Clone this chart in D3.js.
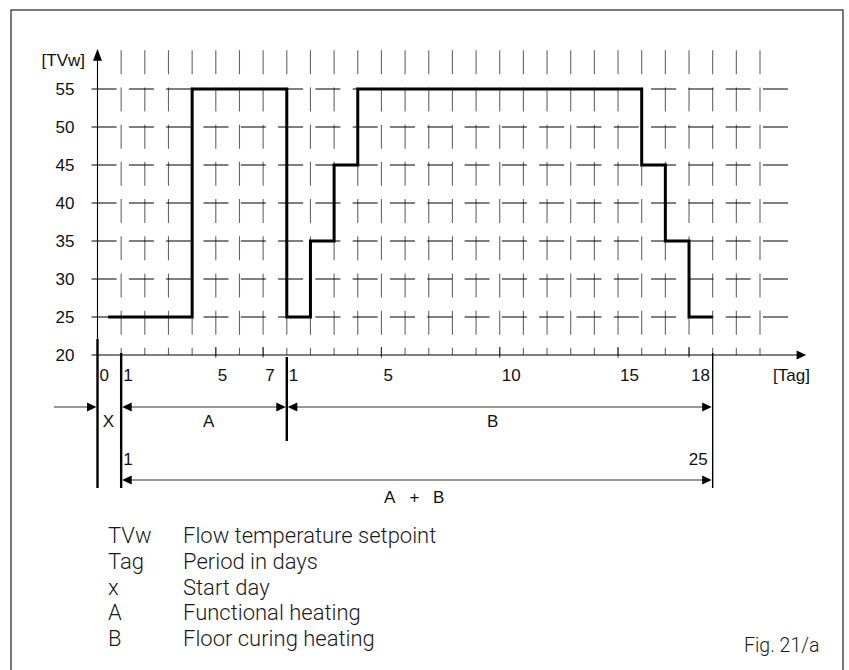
<!DOCTYPE html>
<html><head><meta charset="utf-8">
<script src="https://cdn.jsdelivr.net/npm/d3@7"></script>
<style>
html,body{margin:0;padding:0;background:#fff;}
svg{display:block;}
.lbl{font-family:"Liberation Sans",Arial,sans-serif;font-size:17px;fill:#111;}
.leg{font-family:Roboto,"Noto Sans",sans-serif;font-size:22px;font-weight:300;fill:#1a1a1a;}
.fig{font-family:Roboto,"Noto Sans",sans-serif;font-size:19.5px;font-weight:300;fill:#1a1a1a;}
</style></head><body>
<svg id="chart" width="849" height="670"></svg>
<script>
// Flow temperature profile: each step starts at a day index and holds its setpoint until the next one
const stepStart = [0.45, 4, 8, 9, 10, 11, 23, 24, 25];
const stepEnd = 26;
const setpoints = [25, 55, 25, 35, 45, 55, 45, 35, 25];

// Temperature axis
const yTicks = [20, 25, 30, 35, 40, 45, 50, 55];
const gridLevels = [25, 30, 35, 40, 45, 50, 55];

// Day grid: index 0 = start day, 1..7 functional heating, 8..25 floor curing
const gridDays = d3.range(1, 29);
const xTickIndex = [0, 1, 5, 7, 8, 12, 17, 22, 25];
const xTickLabels = ["0", "1", "5", "7", "1", "5", "10", "15", "18"];

// Heating phases (day indices)
const startDay = 0;
const phaseNames = ["A", "B"];
const phaseStart = [1, 8];
const phaseEnd = [8, 26];
const totalLabels = ["1", "25"];

// Legend entries
const legendKeys = ["TVw", "Tag", "x", "A", "B"];
const legendText = ["Flow temperature setpoint", "Period in days", "Start day", "Functional heating", "Floor curing heating"];

const svg = d3.select("#chart");
const x = d3.scaleLinear().domain([0, 28]).range([97.5, 760]);
const y = d3.scaleLinear().domain([20, 55]).range([355, 89]);

// outer frame
svg.append("rect").attr("x", 11).attr("y", 10).attr("width", 832).attr("height", 700)
  .attr("fill", "none").attr("stroke", "#333").attr("stroke-width", 1.3);

// arrowhead helper: tip at (tx,ty), dir = +1 right, -1 left, "up"
function arrowHead(g, tx, ty, dir) {
  let p;
  if (dir === "up") p = [[tx, ty], [tx - 4.5, ty + 12], [tx + 4.5, ty + 12]];
  else p = [[tx, ty], [tx - dir * 9.5, ty - 4.5], [tx - dir * 9.5, ty + 4.5]];
  g.append("path").attr("d", "M" + p.join("L") + "Z").attr("fill", "#000");
}

// vertical dashed day grid
const grid = svg.append("g");
grid.selectAll("line.v").data(gridDays).join("line").attr("class", "v")
  .attr("x1", d => x(d)).attr("x2", d => x(d))
  .attr("y1", y(60.1)).attr("y2", y(20))
  .attr("stroke", "#666").attr("stroke-width", 1.1)
  .attr("stroke-dasharray", "24,13.2");

// horizontal dashed temperature grid
grid.selectAll("line.h").data(gridLevels).join("line").attr("class", "h")
  .attr("x1", x(-0.25)).attr("x2", x(29.3))
  .attr("y1", d => y(d)).attr("y2", d => y(d))
  .attr("stroke", "#000").attr("stroke-width", 1)
  .attr("stroke-dasharray", "25,12.3");

// tick marks at labelled days (skip the start day / phase borders)
grid.selectAll("line.t").data(xTickIndex.filter(d => d > 1 && d !== 8)).join("line").attr("class", "t")
  .attr("x1", d => x(d)).attr("x2", d => x(d))
  .attr("y1", y(20) - 8).attr("y2", y(20) + 2.5)
  .attr("stroke", "#333").attr("stroke-width", 1.1);

// axes lines
const ax = svg.append("g");
ax.append("line").attr("x1", x(-0.25)).attr("x2", x(29.6)).attr("y1", y(20)).attr("y2", y(20))
  .attr("stroke", "#000").attr("stroke-width", 1.1);
arrowHead(ax, x(29.95), y(20), 1);
ax.append("line").attr("x1", x(0)).attr("x2", x(0)).attr("y1", y(20)).attr("y2", y(59.5))
  .attr("stroke", "#000").attr("stroke-width", 1.1);
arrowHead(ax, x(0), y(60.3), "up");

// y tick labels via d3 axis
const yAxis = svg.append("g").attr("transform", `translate(${x(0)},0)`)
  .call(d3.axisLeft(y).tickValues(yTicks).tickSize(0).tickPadding(23).tickFormat(d3.format("d")));
yAxis.select(".domain").remove();
yAxis.selectAll("text").attr("class", "lbl").attr("font-family", null).attr("font-size", null).attr("fill", "#111");

// x tick labels via d3 axis (left-aligned to the day line)
const xAxis = svg.append("g").attr("transform", `translate(0,${y(20)})`)
  .call(d3.axisBottom(x).tickValues(xTickIndex).tickSize(0).tickPadding(0)
    .tickFormat((d, i) => xTickLabels[i]));
xAxis.select(".domain").remove();
xAxis.selectAll("text").attr("class", "lbl").attr("font-family", null).attr("font-size", null)
  .attr("fill", "#111").attr("text-anchor", "start").attr("dx", 1.5).attr("dy", null).attr("y", 26);

svg.append("text").attr("class", "lbl").attr("x", 85).attr("y", 66).attr("text-anchor", "end").text("[TVw]");
svg.append("text").attr("class", "lbl").attr("x", 773).attr("y", 381).text("[Tag]");

// setpoint step line
const pts = stepStart.map((d, i) => [d, setpoints[i]]).concat([[stepEnd, setpoints[setpoints.length - 1]]]);
svg.append("path").datum(pts)
  .attr("d", d3.line().x(d => x(d[0])).y(d => y(d[1])).curve(d3.curveStepAfter))
  .attr("fill", "none").attr("stroke", "#000").attr("stroke-width", 3).attr("stroke-linejoin", "miter");

// dimension lines below the axis
const dim = svg.append("g");
const rowY = 407, totY = 480;
const ext = [
  { d: startDay, y1: y(20) - 16, y2: 488, w: 2.4 },
  { d: phaseStart[0], y1: y(20) - 2, y2: 488, w: 2.4 },
  { d: phaseEnd[0], y1: y(20) + 2, y2: 441, w: 2.4 },
  { d: phaseEnd[1], y1: y(20) - 2, y2: 488, w: 1.4 }
];
dim.selectAll("line.e").data(ext).join("line").attr("class", "e")
  .attr("x1", d => x(d.d)).attr("x2", d => x(d.d)).attr("y1", d => d.y1).attr("y2", d => d.y2)
  .attr("stroke", "#000").attr("stroke-width", d => d.w);

// start-day pointer
dim.append("line").attr("x1", 54).attr("x2", x(startDay) - 5).attr("y1", rowY).attr("y2", rowY)
  .attr("stroke", "#333").attr("stroke-width", 1.1);
arrowHead(dim, x(startDay) - 1, rowY, 1);

// phase spans
phaseNames.forEach((n, i) => {
  const a = x(phaseStart[i]), b = x(phaseEnd[i]);
  dim.append("line").attr("x1", a + 4).attr("x2", b - 4).attr("y1", rowY).attr("y2", rowY)
    .attr("stroke", "#333").attr("stroke-width", 1.1);
  arrowHead(dim, a + 1, rowY, -1);
  arrowHead(dim, b - 1, rowY, 1);
});
// total span A + B
{
  const a = x(phaseStart[0]), b = x(phaseEnd[1]);
  dim.append("line").attr("x1", a + 4).attr("x2", b - 4).attr("y1", totY).attr("y2", totY)
    .attr("stroke", "#333").attr("stroke-width", 1.1);
  arrowHead(dim, a + 1, totY, -1);
  arrowHead(dim, b - 1, totY, 1);
}

// dimension labels
const tl = (tx, ty, t, anchor) => svg.append("text").attr("class", "lbl")
  .attr("x", tx).attr("y", ty).attr("text-anchor", anchor || "middle").text(t);
tl((x(startDay) + x(phaseStart[0])) / 2 - 1, 427, "X");
tl(x(4.7), 427, phaseNames[0]);
tl(x(16.7), 427, phaseNames[1]);
tl(x(phaseStart[0]) + 2, 465, totalLabels[0], "start");
tl(x(phaseEnd[1]) - 5, 465, totalLabels[1], "end");
const mid = x(13.4);
tl(mid - 25, 503, phaseNames[0]);
tl(mid, 503, "+");
tl(mid + 24, 503, phaseNames[1]);

// legend
const leg = svg.append("g");
legendKeys.forEach((k, i) => {
  leg.append("text").attr("class", "leg").attr("x", 108).attr("y", 543 + i * 25.8).text(k);
  leg.append("text").attr("class", "leg").attr("x", 183).attr("y", 543 + i * 25.8).text(legendText[i]);
});
svg.append("text").attr("class", "fig").attr("x", 744).attr("y", 652).text("Fig. 21/a");
</script>
</body></html>
